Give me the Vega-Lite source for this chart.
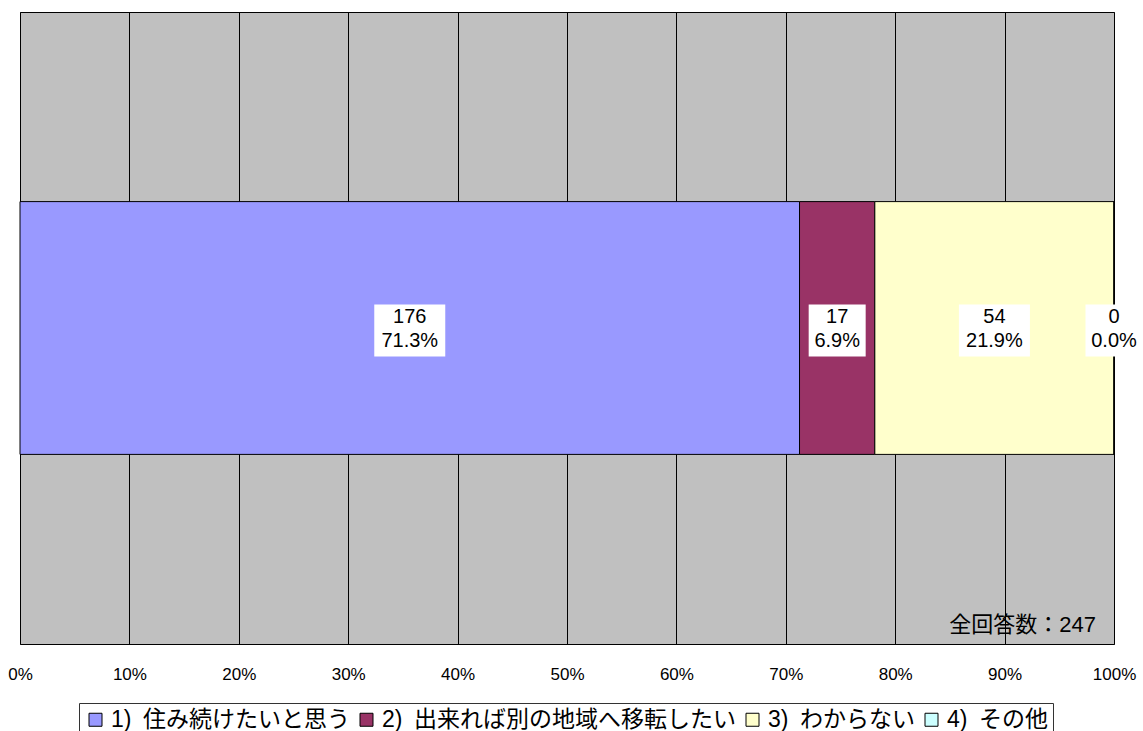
{
  "$schema": "https://vega.github.io/schema/vega-lite/v6.json",
  "autosize": {"type": "none"},
  "padding": {"left": 20, "top": 12, "right": 29, "bottom": 87},
  "width": 1094,
  "height": 632,
  "background": "white",
  "view": {"fill": "#c0c0c0", "stroke": "#000000", "strokeWidth": 1},
  "datasets": {
    "answers": [
      {"cat": "1)\u2002住み続けたいと思う", "count": 176, "pct": 0.713},
      {"cat": "2)\u2002出来れば別の地域へ移転したい", "count": 17, "pct": 0.069},
      {"cat": "3)\u2002わからない", "count": 54, "pct": 0.219},
      {"cat": "4)\u2002その他", "count": 0, "pct": 0.0}
    ]
  },
  "data": {"name": "answers"},
  "encoding": {
    "y": {
      "datum": "all",
      "type": "nominal",
      "axis": null,
      "scale": {"paddingInner": 0, "paddingOuter": 0.75}
    }
  },
  "layer": [
    {
      "mark": {"type": "bar", "stroke": "#000000", "strokeWidth": 1, "opacity": 1},
      "encoding": {
        "x": {
          "field": "count",
          "type": "quantitative",
          "stack": "normalize",
          "scale": {"domain": [0, 1], "nice": false},
          "axis": {
            "values": [0, 0.1, 0.2, 0.3, 0.4, 0.5, 0.6, 0.7, 0.8, 0.9, 1],
            "format": ".0%",
            "title": null,
            "domain": false,
            "ticks": false,
            "grid": true,
            "gridColor": "#000000",
            "gridWidth": 1,
            "gridOpacity": 1,
            "labelFont": "Liberation Sans",
            "labelFontSize": 17,
            "labelColor": "#000000",
            "labelPadding": 22,
            "labelFlush": false
          }
        },
        "color": {
          "field": "cat",
          "type": "nominal",
          "scale": {
            "domain": [
              "1)\u2002住み続けたいと思う",
              "2)\u2002出来れば別の地域へ移転したい",
              "3)\u2002わからない",
              "4)\u2002その他"
            ],
            "range": ["#9999ff", "#993366", "#ffffcc", "#ccffff"]
          },
          "legend": {
            "title": null,
            "orient": "none",
            "legendX": 59,
            "legendY": 691,
            "direction": "horizontal",
            "columns": 4,
            "symbolType": "square",
            "symbolSize": 169,
            "symbolStrokeColor": "#000000",
            "symbolStrokeWidth": 1,
            "symbolOpacity": 1,
            "labelFont": "Liberation Sans, Noto Sans CJK JP",
            "labelFontSize": 23,
            "labelColor": "#000000",
            "labelLimit": 0,
            "labelOffset": 4,
            "columnPadding": 5,
            "padding": 5,
            "strokeColor": "#333333",
            "fillColor": "#ffffff"
          }
        },
        "order": {"field": "cat", "type": "nominal"}
      }
    },
    {
      "mark": {"type": "point", "filled": true, "fill": "#ffffff", "opacity": 1, "strokeWidth": 0, "yOffset": 2.5},
      "encoding": {
        "x": {"field": "count", "type": "quantitative", "stack": "normalize", "bandPosition": 0.5},
        "detail": {"field": "cat"},
        "order": {"field": "cat", "type": "nominal"},
        "shape": {
          "condition": {"test": "datum.pct >= 0.1", "value": "M-1,-0.732H1V0.732H-1Z"},
          "value": "M-1,-0.912H1V0.912H-1Z"
        },
        "size": {
          "condition": {"test": "datum.pct >= 0.1", "value": 5041},
          "value": 3249
        }
      }
    },
    {
      "mark": {"type": "text", "font": "Liberation Sans", "fontSize": 20, "color": "#000000", "baseline": "middle", "dy": -11},
      "encoding": {
        "x": {"field": "count", "type": "quantitative", "stack": "normalize", "bandPosition": 0.5},
        "detail": {"field": "cat"},
        "order": {"field": "cat", "type": "nominal"},
        "text": {"field": "count", "type": "quantitative"}
      }
    },
    {
      "mark": {"type": "text", "font": "Liberation Sans", "fontSize": 20, "color": "#000000", "baseline": "middle", "dy": 13},
      "encoding": {
        "x": {"field": "count", "type": "quantitative", "stack": "normalize", "bandPosition": 0.5},
        "detail": {"field": "cat"},
        "order": {"field": "cat", "type": "nominal"},
        "text": {"field": "pct", "type": "quantitative", "format": ".1%"}
      }
    },
    {
      "data": {"values": [{"note": "全回答数：247"}]},
      "mark": {
        "type": "text",
        "font": "Liberation Sans, Noto Sans CJK JP",
        "fontSize": 22,
        "color": "#000000",
        "align": "right",
        "baseline": "middle",
        "x": {"expr": "width - 18"},
        "y": {"expr": "height - 19"}
      },
      "encoding": {
        "y": null,
        "text": {"field": "note"}
      }
    }
  ]
}
